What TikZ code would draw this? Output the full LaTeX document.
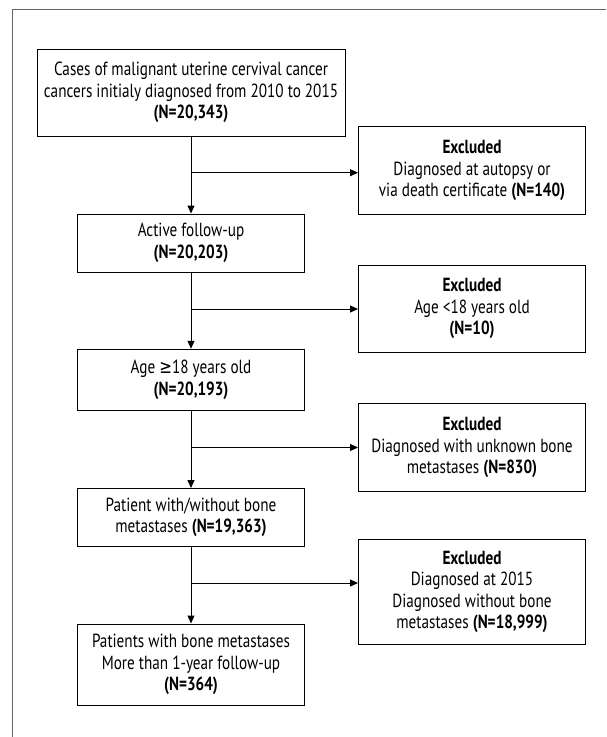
\documentclass[tikz,border=0pt]{standalone}
\usepackage{fontspec}
\setmainfont{PT Sans}[FakeStretch=0.8]
\newfontfamily\symfont{DejaVu Sans}[FakeStretch=0.8]
\usetikzlibrary{arrows.meta}
\begin{document}
\begin{tikzpicture}[x=1pt,y=-1pt,
  every node/.style={font=\fontsize{19}{21.5}\selectfont},
  box/.style={draw=black,line width=1pt,align=center,inner sep=0pt,anchor=center},
  mainbox/.style={box,minimum width=227pt},
  exbox/.style={box,minimum width=227pt},
  arr/.style={draw=black,line width=1pt,-{Triangle[length=8pt,width=7pt]}},
  frameline/.style={draw=black!60,line width=0.8pt}]
\useasboundingbox (0,0) rectangle (606,737);
\draw[frameline] (606,9.3) -- (12.7,9.3) -- (12.7,737);
\node[box,minimum width=308pt,minimum height=87pt] (b1) at (191,92.5)
  {Cases of malignant uterine cervival cancer\\cancers initialy diagnosed from 2010 to 2015\\\textbf{(N=20,343)}};
\node[mainbox,minimum height=58pt] (b2) at (191,243)
  {Active follow-up\\\textbf{(N=20,203)}};
\node[mainbox,minimum height=61.5pt] (b3) at (191,380)
  {Age {\symfont ≥}18 years old\\\textbf{(N=20,193)}};
\node[mainbox,minimum height=57.5pt] (b4) at (191,517.3)
  {Patient with/without bone\\metastases \textbf{(N=19,363)}};
\node[mainbox,minimum height=81pt] (b5) at (191,664.5)
  {Patients with bone metastases\\More than 1-year follow-up\\\textbf{(N=364)}};
\node[exbox,minimum height=88pt] (e1) at (472,170.8)
  {\textbf{Excluded}\\Diagnosed at autopsy or\\via death certificate \textbf{(N=140)}};
\node[exbox,minimum height=87pt] (e2) at (472,308.7)
  {\textbf{Excluded}\\Age <18 years old\\\textbf{(N=10)}};
\node[exbox,minimum height=88pt] (e3) at (472,447.8)
  {\textbf{Excluded}\\Diagnosed with unknown bone\\metastases \textbf{(N=830)}};
\node[exbox,minimum height=105pt] (e4) at (472,591.7)
  {\textbf{Excluded}\\Diagnosed at 2015\\Diagnosed without bone\\metastases \textbf{(N=18,999)}};
\coordinate (j1) at (191,172.7);
\coordinate (j2) at (191,309);
\coordinate (j3) at (191,447.5);
\coordinate (j4) at (191,583);
\draw[arr] (b1) -- (b2);
\draw[arr] (b2) -- (b3);
\draw[arr] (b3) -- (b4);
\draw[arr] (b4) -- (b5);
\draw[arr] (j1) -- (j1 -| e1.west);
\draw[arr] (j2) -- (j2 -| e2.west);
\draw[arr] (j3) -- (j3 -| e3.west);
\draw[arr] (j4) -- (j4 -| e4.west);
\end{tikzpicture}
\end{document}
